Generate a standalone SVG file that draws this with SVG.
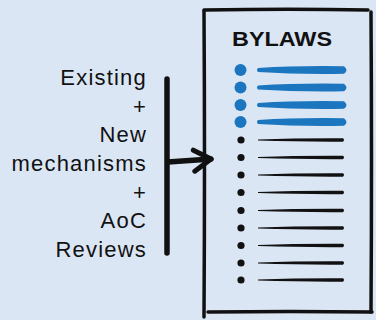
<svg xmlns="http://www.w3.org/2000/svg" width="376" height="320" viewBox="0 0 376 320">
<defs>
<style>
.bg{fill:#dbe6f5}
.edge{fill:none;stroke:#111;stroke-width:3.5;stroke-linecap:round}
.lbl{font-family:"Liberation Sans",Arial,sans-serif;font-size:22px;fill:#111;text-anchor:end;letter-spacing:1.2px}
.title{font-family:"Liberation Sans",Arial,sans-serif;font-size:20px;font-weight:bold;fill:#111}
.blue{fill:#1b76bf}
.blk{fill:#111}
.conn{fill:none;stroke:#111;stroke-width:5.5;stroke-linecap:round;stroke-linejoin:round}
</style>
<marker id="head" markerUnits="userSpaceOnUse" markerWidth="30" markerHeight="30" viewBox="-22 -15 26 30" refX="0" refY="0" orient="auto">
<path d="M-17,-10 L0,0 L-17,11" fill="none" stroke="#111" stroke-width="5" stroke-linecap="round" stroke-linejoin="round"/>
</marker>
<path id="bl" d="M0,-2 Q40,-4.6 86,-3.8 Q91,0 86,3.8 Q40,4.6 0,2 Q-2,0 0,-2 Z"/>
<path id="kl" d="M0,-0.6 Q40,-1.9 85,-1.7 Q87,0 85,1.7 Q40,1.9 0,0.6 Z"/>
</defs>
<rect class="bg" x="0" y="0" width="376" height="320"/>

<g id="bylaws">
<path class="edge" d="M204,11 Q205,160 204,317"/>
<path class="edge" d="M204,10 Q290,8.5 368,10"/>
<path class="edge" d="M371,12 Q372,160 371,312"/>
<path class="edge" d="M208,312 Q290,311 372,312"/>
<text class="title" x="232" y="46" textLength="100" lengthAdjust="spacingAndGlyphs">BYLAWS</text>
<g class="blue">
<circle cx="240.5" cy="70" r="6"/><use href="#bl" x="258" y="70"/>
<circle cx="240.5" cy="87.5" r="6"/><use href="#bl" x="258" y="87.5"/>
<circle cx="240.5" cy="105" r="6"/><use href="#bl" x="258" y="105"/>
<circle cx="240.5" cy="122" r="6"/><use href="#bl" x="258" y="122"/>
</g>
<g class="blk">
<circle cx="241" cy="140" r="3.6"/><use href="#kl" x="258" y="140"/>
<circle cx="241" cy="157.5" r="3.6"/><use href="#kl" x="258" y="157.5"/>
<circle cx="241" cy="175" r="3.6"/><use href="#kl" x="258" y="175"/>
<circle cx="241" cy="192.5" r="3.6"/><use href="#kl" x="258" y="192.5"/>
<circle cx="241" cy="210.5" r="3.6"/><use href="#kl" x="258" y="210.5"/>
<circle cx="241" cy="228" r="3.6"/><use href="#kl" x="258" y="228"/>
<circle cx="241" cy="245.5" r="3.6"/><use href="#kl" x="258" y="245.5"/>
<circle cx="241" cy="263" r="3.6"/><use href="#kl" x="258" y="263"/>
<circle cx="241" cy="280" r="3.6"/><use href="#kl" x="258" y="280"/>
</g>
</g>

<g id="inputs">
<text class="lbl" x="147" y="85">Existing</text>
<text class="lbl" x="147" y="114">+</text>
<text class="lbl" x="147" y="142">New</text>
<text class="lbl" x="147" y="171">mechanisms</text>
<text class="lbl" x="147" y="200">+</text>
<text class="lbl" x="147" y="228">AoC</text>
<text class="lbl" x="147" y="257">Reviews</text>
</g>

<g id="connectors">
<path class="conn" d="M167,79 L167,253" stroke-linecap="butt" stroke-width="6"/>
<path class="conn" d="M168,162 L211,159" marker-end="url(#head)"/>
</g>
</svg>
